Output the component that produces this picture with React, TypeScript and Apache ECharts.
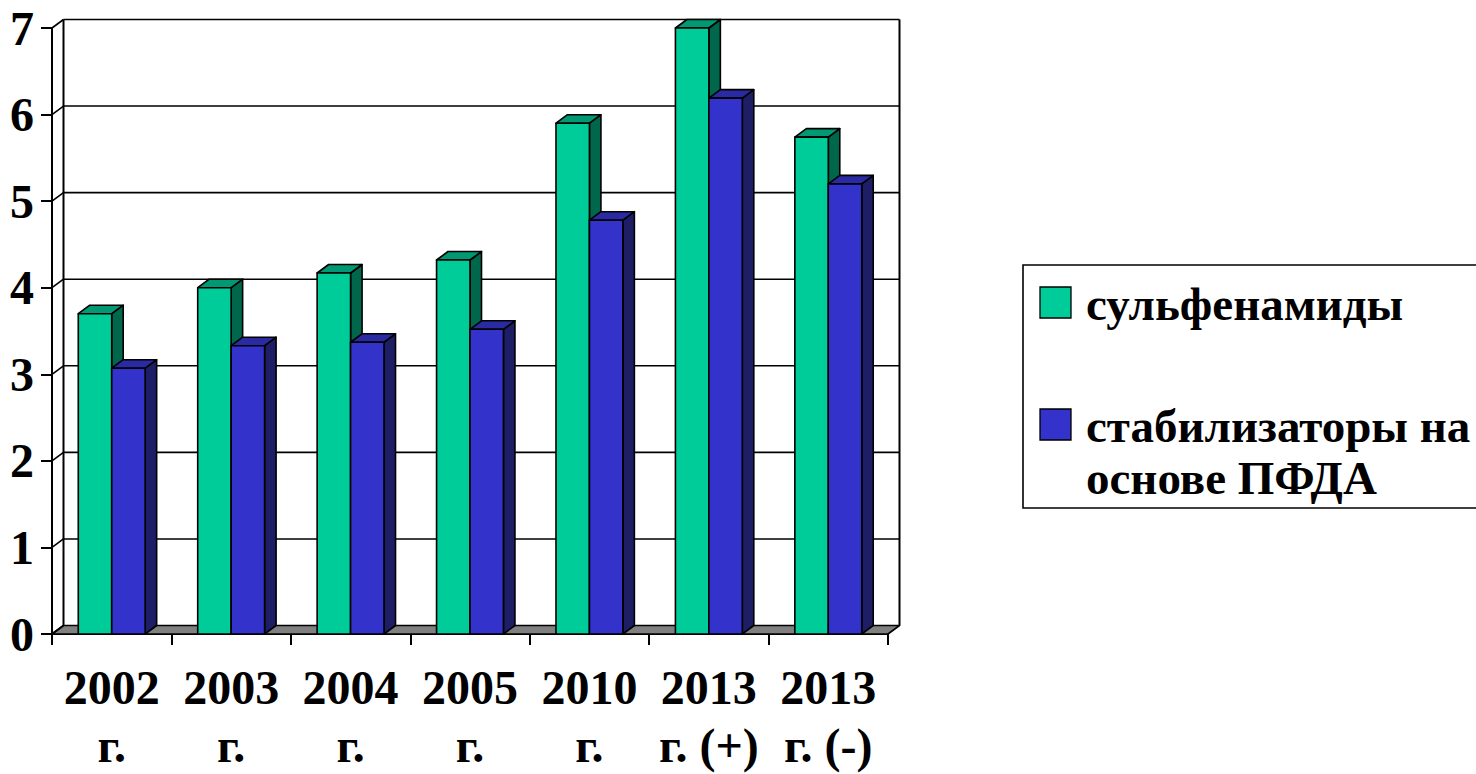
import React, { useEffect, useRef } from "react";
import * as echarts from "echarts";

const categories = ["2002\nг.", "2003\nг.", "2004\nг.", "2005\nг.", "2010\nг.", "2013\nг. (+)", "2013\nг. (-)"];
const seriesNames = ["сульфенамиды", "стабилизаторы на\nоснове ПФДА"];
const sulfenamides = [3.7, 4.0, 4.17, 4.32, 5.9, 7.0, 5.74];
const stabilizers = [3.07, 3.33, 3.37, 3.52, 4.78, 6.19, 5.2];
const yTicks = [0, 1, 2, 3, 4, 5, 6, 7];

const DX = 11.5;
const DY = -8.5;
const FONT = "Liberation Serif, Times New Roman, serif";

const palettes = [
  { front: "#00CC99", top: "#009973", side: "#00664C" },
  { front: "#3333CC", top: "#2A2AA3", side: "#1E1E66" },
];

function barRenderer(seriesIdx: number) {
  return (params: any, api: any) => {
    const cat = api.value(0);
    const val = api.value(1);
    const top = api.coord([cat, val]);
    const base = api.coord([cat, 0]);
    const bw = api.size([1, 0])[0] * 0.28;
    const x0 = seriesIdx === 0 ? top[0] - bw : top[0];
    const cy = top[1];
    const by = base[1];
    const p = palettes[seriesIdx];
    const stroke = { stroke: "#000", lineWidth: 1.6, lineJoin: "round" };
    return {
      type: "group",
      children: [
        {
          type: "polygon",
          shape: { points: [[x0 + bw, cy], [x0 + bw + DX, cy + DY], [x0 + bw + DX, by + DY], [x0 + bw, by]] },
          style: { fill: p.side, ...stroke },
        },
        {
          type: "polygon",
          shape: { points: [[x0, cy], [x0 + bw, cy], [x0 + bw + DX, cy + DY], [x0 + DX, cy + DY]] },
          style: { fill: p.top, ...stroke },
        },
        {
          type: "rect",
          shape: { x: x0, y: cy, width: bw, height: by - cy },
          style: { fill: p.front, ...stroke },
        },
      ],
    };
  };
}

function wallRenderer(params: any, api: any) {
  const cs = params.coordSys;
  const v = api.value(1);
  const y = api.coord([0, v])[1];
  const xl = cs.x;
  const xr = cs.x + cs.width;
  const line = { stroke: "#000", lineWidth: 1.6 };
  const children: any[] = [];
  if (v === 0) {
    const yTop = api.coord([0, yTicks[yTicks.length - 1]])[1];
    children.push({
      type: "polygon",
      shape: { points: [[xl, y], [xr, y], [xr + DX, y + DY], [xl + DX, y + DY]] },
      style: { fill: "#808080", stroke: "#000", lineWidth: 1.6, lineJoin: "round" },
    });
    children.push({ type: "line", shape: { x1: xl + DX, y1: y + DY, x2: xl + DX, y2: yTop + DY }, style: { ...line, lineWidth: 2 } });
    children.push({ type: "line", shape: { x1: xr + DX, y1: y + DY, x2: xr + DX, y2: yTop + DY }, style: { ...line, lineWidth: 2 } });
  } else {
    children.push({ type: "line", shape: { x1: xl + DX, y1: y + DY, x2: xr + DX, y2: y + DY }, style: line });
  }
  children.push({ type: "line", shape: { x1: xl, y1: y, x2: xl + DX, y2: y + DY }, style: line });
  return { type: "group", children };
}

export default function App() {
  const ref = useRef<HTMLDivElement>(null);
  useEffect(() => {
    if (!ref.current) return;
    const chart = echarts.init(ref.current, null, { renderer: "svg" });
    const labelStyle = { fontFamily: FONT, fontWeight: "bold", fontSize: 48, color: "#000" };
    chart.setOption({
      animation: false,
      backgroundColor: "#fff",
      grid: { left: 52, top: 28, width: 836, height: 606, containLabel: false },
      xAxis: {
        type: "category",
        data: categories,
        axisLine: { show: true, lineStyle: { color: "#000", width: 2 } },
        axisTick: { show: true, length: 11, lineStyle: { color: "#000", width: 2 } },
        axisLabel: { ...labelStyle, interval: 0, lineHeight: 58, margin: 24 },
        splitLine: { show: false },
      },
      yAxis: {
        type: "value",
        min: 0,
        max: 7,
        interval: 1,
        axisLine: { show: true, lineStyle: { color: "#000", width: 2 } },
        axisTick: { show: true, length: 11, lineStyle: { color: "#000", width: 2 } },
        axisLabel: { ...labelStyle, margin: 18 },
        splitLine: { show: false },
      },
      series: [
        {
          type: "custom",
          name: "wall",
          clip: false,
          z: 1,
          silent: true,
          renderItem: wallRenderer,
          data: yTicks.map((v) => [0, v]),
          encode: { x: 0, y: 1 },
        },
        {
          type: "custom",
          name: seriesNames[0],
          clip: false,
          z: 3,
          renderItem: barRenderer(0),
          data: sulfenamides.map((v, i) => [i, v]),
          encode: { x: 0, y: 1 },
        },
        {
          type: "custom",
          name: seriesNames[1],
          clip: false,
          z: 4,
          renderItem: barRenderer(1),
          data: stabilizers.map((v, i) => [i, v]),
          encode: { x: 0, y: 1 },
        },
      ],
      graphic: [
        {
          type: "rect",
          shape: { x: 1023, y: 265, width: 480, height: 243 },
          style: { fill: "#fff", stroke: "#000", lineWidth: 1.6 },
        },
        {
          type: "rect",
          shape: { x: 1040, y: 287, width: 31, height: 31 },
          style: { fill: palettes[0].front, stroke: "#000", lineWidth: 1.3 },
        },
        {
          type: "rect",
          shape: { x: 1040, y: 409, width: 31, height: 31 },
          style: { fill: palettes[1].front, stroke: "#000", lineWidth: 1.3 },
        },
        {
          type: "text",
          x: 1086,
          y: 304,
          style: { text: seriesNames[0], fontFamily: FONT, fontWeight: "bold", fontSize: 47, fill: "#000", verticalAlign: "middle", align: "left" },
        },
        {
          type: "text",
          x: 1086,
          y: 400,
          style: { text: seriesNames[1], fontFamily: FONT, fontWeight: "bold", fontSize: 47, lineHeight: 52, fill: "#000", verticalAlign: "top", align: "left" },
        },
      ],
    });
    return () => chart.dispose();
  }, []);
  return <div ref={ref} style={{ position: "fixed", left: 0, top: 0, width: 1476, height: 774 }} />;
}
